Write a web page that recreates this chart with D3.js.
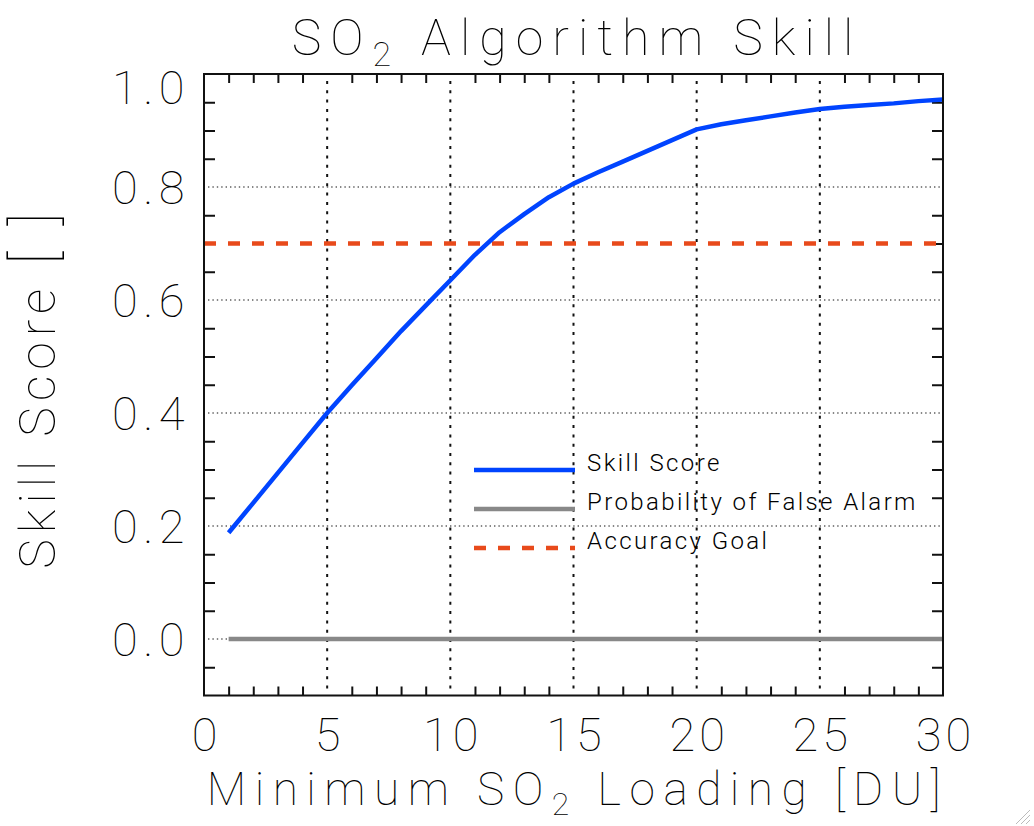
<!DOCTYPE html>
<html>
<head>
<meta charset="utf-8">
<script src="https://cdn.jsdelivr.net/npm/d3@7"></script>
<style>
  html, body { margin: 0; padding: 0; background: #fff; }
  svg { display: block; }
  text { font-family: Roboto, "DejaVu Sans", sans-serif; font-weight: 100; fill: #000; }
</style>
</head>
<body>
<svg id="chart" width="1034" height="826"></svg>
<script>
// ---- data ----
const loading = [1, 2, 3, 4, 5, 6, 7, 8, 9, 10, 11, 12, 13, 14, 15, 16, 17, 18, 19, 20, 21, 22, 23, 24, 25, 26, 27, 28, 29, 30];
const skillScore = [0.188, 0.241, 0.294, 0.347, 0.400, 0.449, 0.497, 0.545, 0.590, 0.635, 0.680, 0.720, 0.752, 0.782, 0.806, 0.826, 0.845, 0.864, 0.883, 0.902, 0.911, 0.918, 0.925, 0.932, 0.938, 0.942, 0.945, 0.948, 0.952, 0.955];
const falseAlarm = [0, 0, 0, 0, 0, 0, 0, 0, 0, 0, 0, 0, 0, 0, 0, 0, 0, 0, 0, 0, 0, 0, 0, 0, 0, 0, 0, 0, 0, 0];
const accuracyGoal = 0.7;
const xTicks = [0, 5, 10, 15, 20, 25, 30];
const yTicks = [0.0, 0.2, 0.4, 0.6, 0.8, 1.0];
const legendLabels = ["Skill Score", "Probability of False Alarm", "Accuracy Goal"];

// ---- layout ----
const svg = d3.select("#chart");
const L = 204, R = 943, T = 74, B = 695.5;
const x = d3.scaleLinear().domain([0, 30]).range([L, R]);
const y = d3.scaleLinear().domain([-0.1, 1.0]).range([B, T]);

const blue = "#0044ff", grey = "#888888", red = "#e84a1b";
const tickFont = "47px", titleFont = "50px", xTitleFont = "46px";

// grid (dotted) at major ticks
const g = svg.append("g");
g.selectAll(".vg").data(xTicks.filter(d => d > 0 && d < 30)).join("line")
  .attr("x1", d => x(d)).attr("x2", d => x(d))
  .attr("y1", T + 7).attr("y2", B - 7)
  .attr("stroke", "#111").attr("stroke-width", 2).attr("stroke-dasharray", "3,6.3");
g.selectAll(".hg").data(yTicks.filter(d => d < 1.0)).join("line")
  .attr("x1", L + 4).attr("x2", R - 3)
  .attr("y1", d => y(d)).attr("y2", d => y(d))
  .attr("stroke", "#111").attr("stroke-width", 1.2).attr("stroke-dasharray", "1.4,3");

// minor ticks via axes
const xMinor = d3.range(1, 30).filter(d => d % 5 !== 0);
const yMinor = d3.range(-0.05, 1.0, 0.05).map(d => Math.round(d * 100) / 100)
  .filter(d => Math.round(d * 100) % 20 !== 0);

const axB = d3.axisTop(x).tickValues(xMinor).tickSize(9).tickFormat("");
const axT = d3.axisBottom(x).tickValues(xMinor).tickSize(9).tickFormat("");
const axLft = d3.axisRight(y).tickValues(yMinor).tickSize(11).tickFormat("");
const axRgt = d3.axisLeft(y).tickValues(yMinor).tickSize(11).tickFormat("");
function styleAx(sel) {
  sel.select(".domain").remove();
  sel.selectAll("line").attr("stroke", "#111").attr("stroke-width", 2);
}
svg.append("g").attr("transform", `translate(0,${B})`).call(axB).call(styleAx);
svg.append("g").attr("transform", `translate(0,${T})`).call(axT).call(styleAx);
svg.append("g").attr("transform", `translate(${L},0)`).call(axLft).call(styleAx);
svg.append("g").attr("transform", `translate(${R},0)`).call(axRgt).call(styleAx);

// major tick labels via axes
const xLab = d3.axisBottom(x).tickValues(xTicks).tickSize(0).tickPadding(0).tickFormat(d3.format("d"));
const xg = svg.append("g").attr("transform", `translate(0,${B})`).call(xLab);
xg.select(".domain").remove();
xg.selectAll("text").attr("dy", null).attr("y", 55).attr("dx", 2)
  .style("font-family", 'Roboto, "DejaVu Sans", sans-serif').style("font-weight", 100)
  .style("font-size", tickFont).style("letter-spacing", "4px").attr("fill", "#000");

const yLab = d3.axisLeft(y).tickValues(yTicks).tickSize(0).tickPadding(14).tickFormat(d3.format(".1f"));
const yg = svg.append("g").attr("transform", `translate(${L},0)`).call(yLab);
yg.select(".domain").remove();
yg.selectAll("text").attr("dy", d => d === 1.0 ? "0.62em" : "0.36em")
  .style("font-family", 'Roboto, "DejaVu Sans", sans-serif').style("font-weight", 100)
  .style("font-size", tickFont).style("letter-spacing", "5.5px").attr("fill", "#000");

// accuracy goal
svg.append("line")
  .attr("x1", x(0)).attr("x2", x(30)).attr("y1", y(accuracyGoal)).attr("y2", y(accuracyGoal))
  .attr("stroke", red).attr("stroke-width", 4.5).attr("stroke-dasharray", "12,12");

const line = d3.line().x((d, i) => x(loading[i])).y(d => y(d));
// false alarm
svg.append("path").datum(falseAlarm).attr("d", line)
  .attr("fill", "none").attr("stroke", grey).attr("stroke-width", 4.5);
// skill score
svg.append("path").datum(skillScore).attr("d", line)
  .attr("fill", "none").attr("stroke", blue).attr("stroke-width", 4.5).attr("stroke-linejoin", "round");

// frame
svg.append("rect").attr("x", L).attr("y", T).attr("width", R - L).attr("height", B - T)
  .attr("fill", "none").attr("stroke", "#111").attr("stroke-width", 2);

// legend
const legY = [470, 509, 548];
const legColors = [blue, grey, red];
const leg = svg.append("g");
legendLabels.forEach((lab, i) => {
  leg.append("line").attr("x1", 474).attr("x2", 575).attr("y1", legY[i]).attr("y2", legY[i])
    .attr("stroke", legColors[i]).attr("stroke-width", 4.5)
    .attr("stroke-dasharray", i === 2 ? "12,12" : null);
  leg.append("text").attr("x", 587).attr("y", legY[i] + 1)
    .style("font-weight", 300)
    .style("font-size", "24px").style("letter-spacing", "2.4px").text(lab);
});

// title
const title = svg.append("text").attr("x", 577).attr("y", 55).attr("text-anchor", "middle")
  .style("font-size", titleFont).style("letter-spacing", "9px");
title.append("tspan").text("SO");
title.append("tspan").attr("dy", 11).style("font-size", "34px").text("2");
title.append("tspan").attr("dy", -11).text("\u00a0Algorithm\u00a0Skill");

// x axis title
const xt = svg.append("text").attr("x", 578).attr("y", 805).attr("text-anchor", "middle")
  .style("font-size", xTitleFont).style("letter-spacing", "8.5px");
xt.append("tspan").text("Minimum\u00a0SO");
xt.append("tspan").attr("dy", 10).style("font-size", "32px").text("2");
xt.append("tspan").attr("dy", -10).text("\u00a0Loading\u00a0[DU]");

// y axis title
const yt = svg.append("text").attr("transform", `translate(55,${(T + B) / 2 + 3}) rotate(-90)`)
  .attr("text-anchor", "middle").style("font-size", titleFont).style("letter-spacing", "6px");
yt.append("tspan").text("Skill\u00a0Score\u00a0");
yt.append("tspan").style("font-size", "60px").text("[\u00a0]");

// resize grip in corner
const grip = svg.append("g").attr("stroke", "#bbb").attr("stroke-width", 1);
[0, 5, 10].forEach(o => grip.append("line")
  .attr("x1", 1016 + o).attr("y1", 824).attr("x2", 1030).attr("y2", 810 + o));
</script>
</body>
</html>
